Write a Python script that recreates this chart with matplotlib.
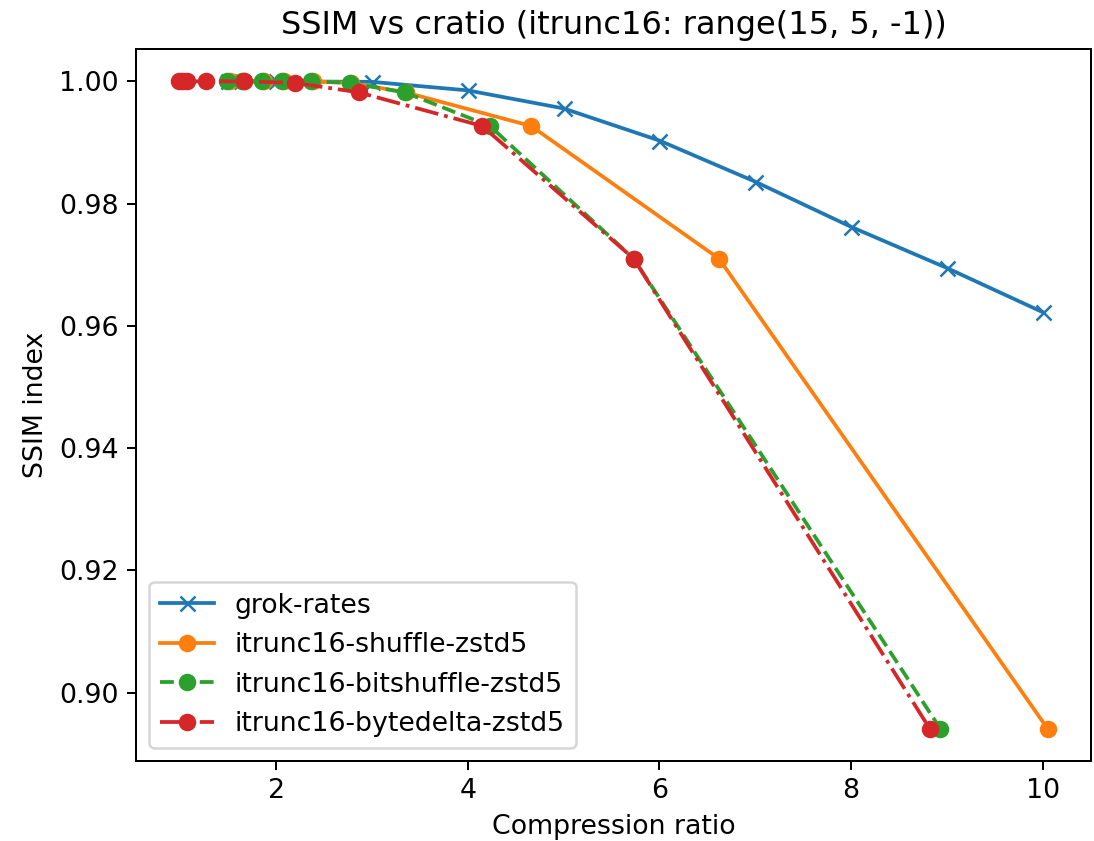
import matplotlib
matplotlib.use("Agg")
import matplotlib.pyplot as plt

# Compression ratio / SSIM results
grok_cratio = [1.5, 2.0, 3.0, 4.0, 5.0, 6.0, 7.0, 8.0, 9.0, 10.0]
grok_ssim = [1.0, 1.0, 0.99992, 0.99852, 0.99557, 0.99031, 0.98358, 0.97619, 0.96946, 0.96223]

# itrunc16 keeps the same SSIM for a given truncation, regardless of codec
itrunc_ssim = [1.0, 1.0, 1.0, 1.0, 1.0, 0.99975, 0.9982, 0.9927, 0.9710, 0.8941]
shuffle_cratio = [1.52, 1.66, 1.87, 2.08, 2.38, 2.78, 3.35, 4.66, 6.62, 10.05]
bitshuffle_cratio = [1.49, 1.64, 1.85, 2.06, 2.36, 2.77, 3.34, 4.23, 5.73, 8.93]
bytedelta_cratio = [0.99, 1.02, 1.07, 1.27, 1.66, 2.20, 2.86, 4.15, 5.73, 8.82]

plt.rcParams["font.size"] = 10.7
plt.rcParams["axes.titlesize"] = 12.8

W, H, DPI = 1094, 841, 180
fig = plt.figure(figsize=(W / DPI, H / DPI), dpi=DPI)
left, right, top, bottom = 136, 1091, 49, 761
ax = fig.add_axes([left / W, (H - bottom) / H, (right - left) / W, (bottom - top) / H])

ax.plot(grok_cratio, grok_ssim, marker="x", label="grok-rates")
ax.plot(shuffle_cratio, itrunc_ssim, marker="o", linestyle="-", label="itrunc16-shuffle-zstd5")
ax.plot(bitshuffle_cratio, itrunc_ssim, marker="o", linestyle="--", label="itrunc16-bitshuffle-zstd5")
ax.plot(bytedelta_cratio, itrunc_ssim, marker="o", linestyle="-.", label="itrunc16-bytedelta-zstd5")

ax.set_title("SSIM vs cratio (itrunc16: range(15, 5, -1))")
ax.set_xlabel("Compression ratio")
ax.set_ylabel("SSIM index")
ax.legend(loc="lower left")

fig.savefig("out.png", dpi=DPI)
